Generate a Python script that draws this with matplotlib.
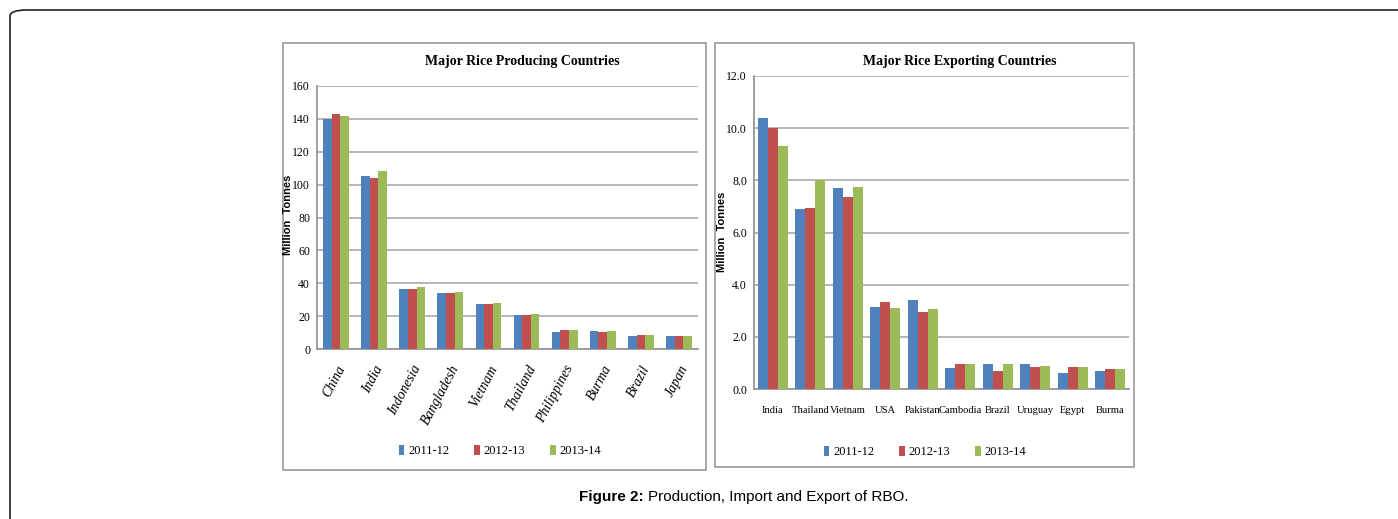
import numpy as np
import matplotlib.pyplot as plt
from matplotlib.patches import Rectangle, FancyBboxPatch

# ---- data ----
years = ['2011-12', '2012-13', '2013-14']
colors = ['#4F81BD', '#C0504D', '#9BBB59']

prod_countries = ['China', 'India', 'Indonesia', 'Bangladesh', 'Vietnam', 'Thailand',
                  'Philippines', 'Burma', 'Brazil', 'Japan']
prod_2011 = [140, 105, 36.5, 34, 27.5, 20.5, 10.5, 11, 8, 8]
prod_2012 = [143, 104, 36.5, 34, 27.5, 20.5, 11.5, 10.5, 8.5, 8]
prod_2013 = [142, 108, 37.5, 34.5, 28, 21.5, 11.5, 11, 8.5, 8]

exp_countries = ['India', 'Thailand', 'Vietnam', 'USA', 'Pakistan', 'Cambodia',
                 'Brazil', 'Uruguay', 'Egypt', 'Burma']
exp_2011 = [10.4, 6.9, 7.7, 3.15, 3.4, 0.8, 0.95, 0.95, 0.6, 0.7]
exp_2012 = [10.0, 6.95, 7.35, 3.35, 2.95, 0.95, 0.7, 0.85, 0.85, 0.75]
exp_2013 = [9.3, 8.0, 7.75, 3.1, 3.05, 0.95, 0.95, 0.9, 0.85, 0.75]

W, H = 1398, 519
fig = plt.figure(figsize=(W / 100, H / 100), dpi=100)
serif = 'Liberation Serif'

def fx(px):
    return px / W

def fy(py):
    return 1 - py / H

# outer frame with rounded corner
frame = FancyBboxPatch((fx(10), fy(560)), fx(1450), (560 - 10) / H,
                       boxstyle='round,pad=0,rounding_size=0.012',
                       transform=fig.transFigure, fill=False,
                       edgecolor='#222222', linewidth=1.2, clip_on=False)
fig.patches.append(frame)

# panel boxes
for (x0, y0, x1, y1) in [(283, 43, 706, 470), (715, 43, 1134, 467)]:
    fig.patches.append(Rectangle((fx(x0), fy(y1)), (x1 - x0) / W, (y1 - y0) / H,
                                 transform=fig.transFigure, fill=False,
                                 edgecolor='#9a9a9a', linewidth=1.2))


def draw_panel(ax, cats, series, width, ymax, step, fmt, rot):
    x = np.arange(len(cats))
    for i, (vals, c, lab) in enumerate(zip(series, colors, years)):
        ax.bar(x + (i - 1) * width, vals, width, color=c, label=lab, zorder=3)
    ax.set_xlim(-0.5, len(cats) - 0.5)
    ax.set_ylim(0, ymax)
    ticks = np.arange(0, ymax + step / 2, step)
    ax.set_yticks(ticks)
    ax.set_yticklabels([fmt % t for t in ticks], fontfamily=serif, fontsize=8.5)
    ax.yaxis.grid(True, color='#b0b0b0', linewidth=1.3, zorder=0)
    ax.set_axisbelow(True)
    for s in ['top', 'right']:
        ax.spines[s].set_visible(False)
    for s in ['left', 'bottom']:
        ax.spines[s].set_color('#909090')
        ax.spines[s].set_linewidth(1.2)
    ax.tick_params(axis='y', length=0, pad=5)
    ax.tick_params(axis='x', length=0)
    ax.set_xticks(x)
    if rot:
        ax.set_xticklabels(cats, rotation=62, ha='right', rotation_mode='anchor',
                           fontfamily=serif, fontstyle='italic', fontsize=10)
        ax.tick_params(axis='x', pad=10)
    else:
        ax.set_xticklabels(cats, fontfamily=serif, fontsize=7.6)
        ax.tick_params(axis='x', pad=12)


# left panel
ax1 = fig.add_axes([fx(317), fy(349), (698 - 317) / W, (349 - 86) / H])
draw_panel(ax1, prod_countries, [prod_2011, prod_2012, prod_2013], 0.225,
           160, 20, '%d', True)
fig.text(fx(522), fy(62), 'Major Rice Producing Countries', ha='center', va='center',
         fontfamily=serif, fontweight='bold', fontsize=10)
fig.text(fx(288), fy(215), 'Million  Tonnes', rotation=90, ha='center', va='center',
         fontfamily='Liberation Sans', fontweight='bold', fontsize=8)
ax1.legend(loc='center', bbox_to_anchor=(fx(500), fy(451)),
           bbox_transform=fig.transFigure, ncol=3, frameon=False,
           prop={'family': serif, 'size': 9}, handlelength=0.45, handleheight=0.9,
           handletextpad=0.3, columnspacing=2.0)

# right panel
ax2 = fig.add_axes([fx(754), fy(389), (1129 - 754) / W, (389 - 76) / H])
draw_panel(ax2, exp_countries, [exp_2011, exp_2012, exp_2013], 0.27,
           12, 2, '%.1f', False)
fig.text(fx(960), fy(62), 'Major Rice Exporting Countries', ha='center', va='center',
         fontfamily=serif, fontweight='bold', fontsize=10)
fig.text(fx(722), fy(232), 'Million  Tonnes', rotation=90, ha='center', va='center',
         fontfamily='Liberation Sans', fontweight='bold', fontsize=8)
ax2.legend(loc='center', bbox_to_anchor=(fx(925), fy(452)),
           bbox_transform=fig.transFigure, ncol=3, frameon=False,
           prop={'family': serif, 'size': 9}, handlelength=0.45, handleheight=0.9,
           handletextpad=0.3, columnspacing=2.0)

# caption
fig.text(fx(644), fy(497), 'Figure 2:', ha='right', va='center', fontsize=11,
         fontfamily='Liberation Sans', fontweight='bold')
fig.text(fx(648), fy(497), 'Production, Import and Export of RBO.', ha='left',
         va='center', fontsize=11, fontfamily='Liberation Sans')

fig.savefig('out.png', dpi=100)
